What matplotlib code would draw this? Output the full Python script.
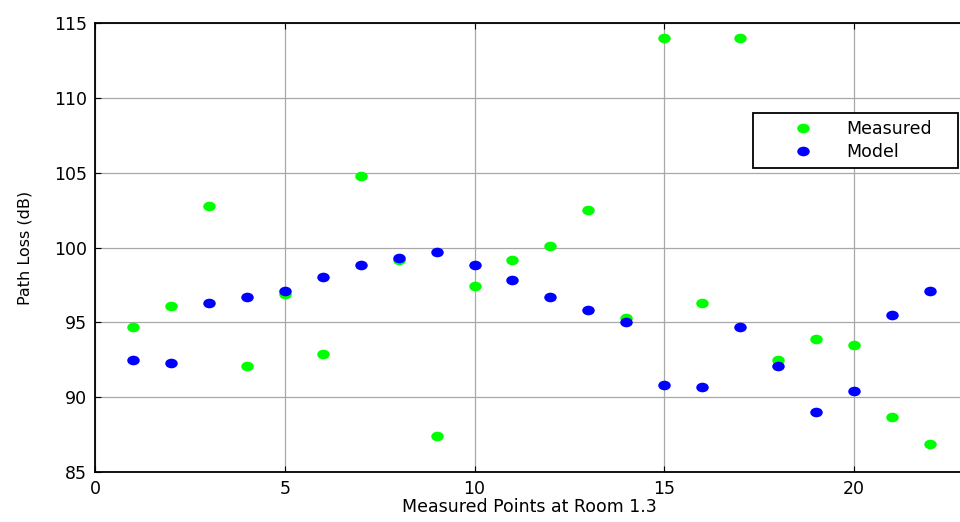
import matplotlib
matplotlib.use("Agg")
import matplotlib.pyplot as plt
from matplotlib.path import Path
from matplotlib.transforms import Affine2D

plt.rcParams['font.family'] = ['DejaVu Sans']

# measurement point index
points = list(range(1, 23))

# path loss (dB) at each point
measured = [94.7, 96.1, 102.8, 92.1, 96.9, 92.9, 104.8, 99.2, 87.4, 97.4, 99.2,
            100.1, 102.5, 95.3, 114.0, 96.3, 114.0, 92.5, 93.9, 93.5, 88.7, 86.9]
model = [92.5, 92.3, 96.3, 96.7, 97.1, 98.0, 98.8, 99.3, 99.7, 98.8, 97.8,
         96.7, 95.8, 95.0, 90.8, 90.7, 94.7, 92.1, 89.0, 90.4, 95.5, 97.1]

x_ticks = [0, 5, 10, 15, 20]
y_ticks = [85, 90, 95, 100, 105, 110, 115]

# slightly flattened dot
dot = Affine2D().scale(1.0, 0.77).transform_path(Path.unit_circle())

fig = plt.figure(figsize=(9.6, 5.22), dpi=100)
# right spine sits just past the edge of the figure
ax = fig.add_axes([0.099, 0.0958, 0.904, 0.860])

ax.plot(points, measured, linestyle='none', marker=dot, color='#00ff00',
        markersize=9, markeredgewidth=0, label='Measured', zorder=3)
ax.plot(points, model, linestyle='none', marker=dot, color='#0000ff',
        markersize=9, markeredgewidth=0, label='Model', zorder=3)

ax.set_xlim(0, 22.87)
ax.set_ylim(85, 115)
ax.set_xticks(x_ticks)
ax.set_yticks(y_ticks)
ax.grid(True, color='#a8a8a8', linewidth=0.9)
ax.set_axisbelow(True)
ax.tick_params(direction='in', length=4, width=0.8, top=True, labelsize=12.5, pad=6)
for side in ['left', 'bottom', 'top']:
    ax.spines[side].set_linewidth(1.3)

ax.set_xlabel('Measured Points at Room 1.3', fontsize=12.5, labelpad=0)
ax.set_ylabel('Path Loss (dB)', fontsize=11.5, labelpad=15)

leg = ax.legend(loc='upper left', bbox_to_anchor=(0.784, 0.6686, 0.214, 0.1149),
                bbox_transform=fig.transFigure, mode='expand', fancybox=False,
                edgecolor='black', framealpha=1, fontsize=12.5, numpoints=1,
                borderpad=0.4, handlelength=5, handletextpad=0.0,
                labelspacing=0.3, borderaxespad=0)
leg.get_frame().set_linewidth(1.3)

fig.savefig('out.png', dpi=100)
